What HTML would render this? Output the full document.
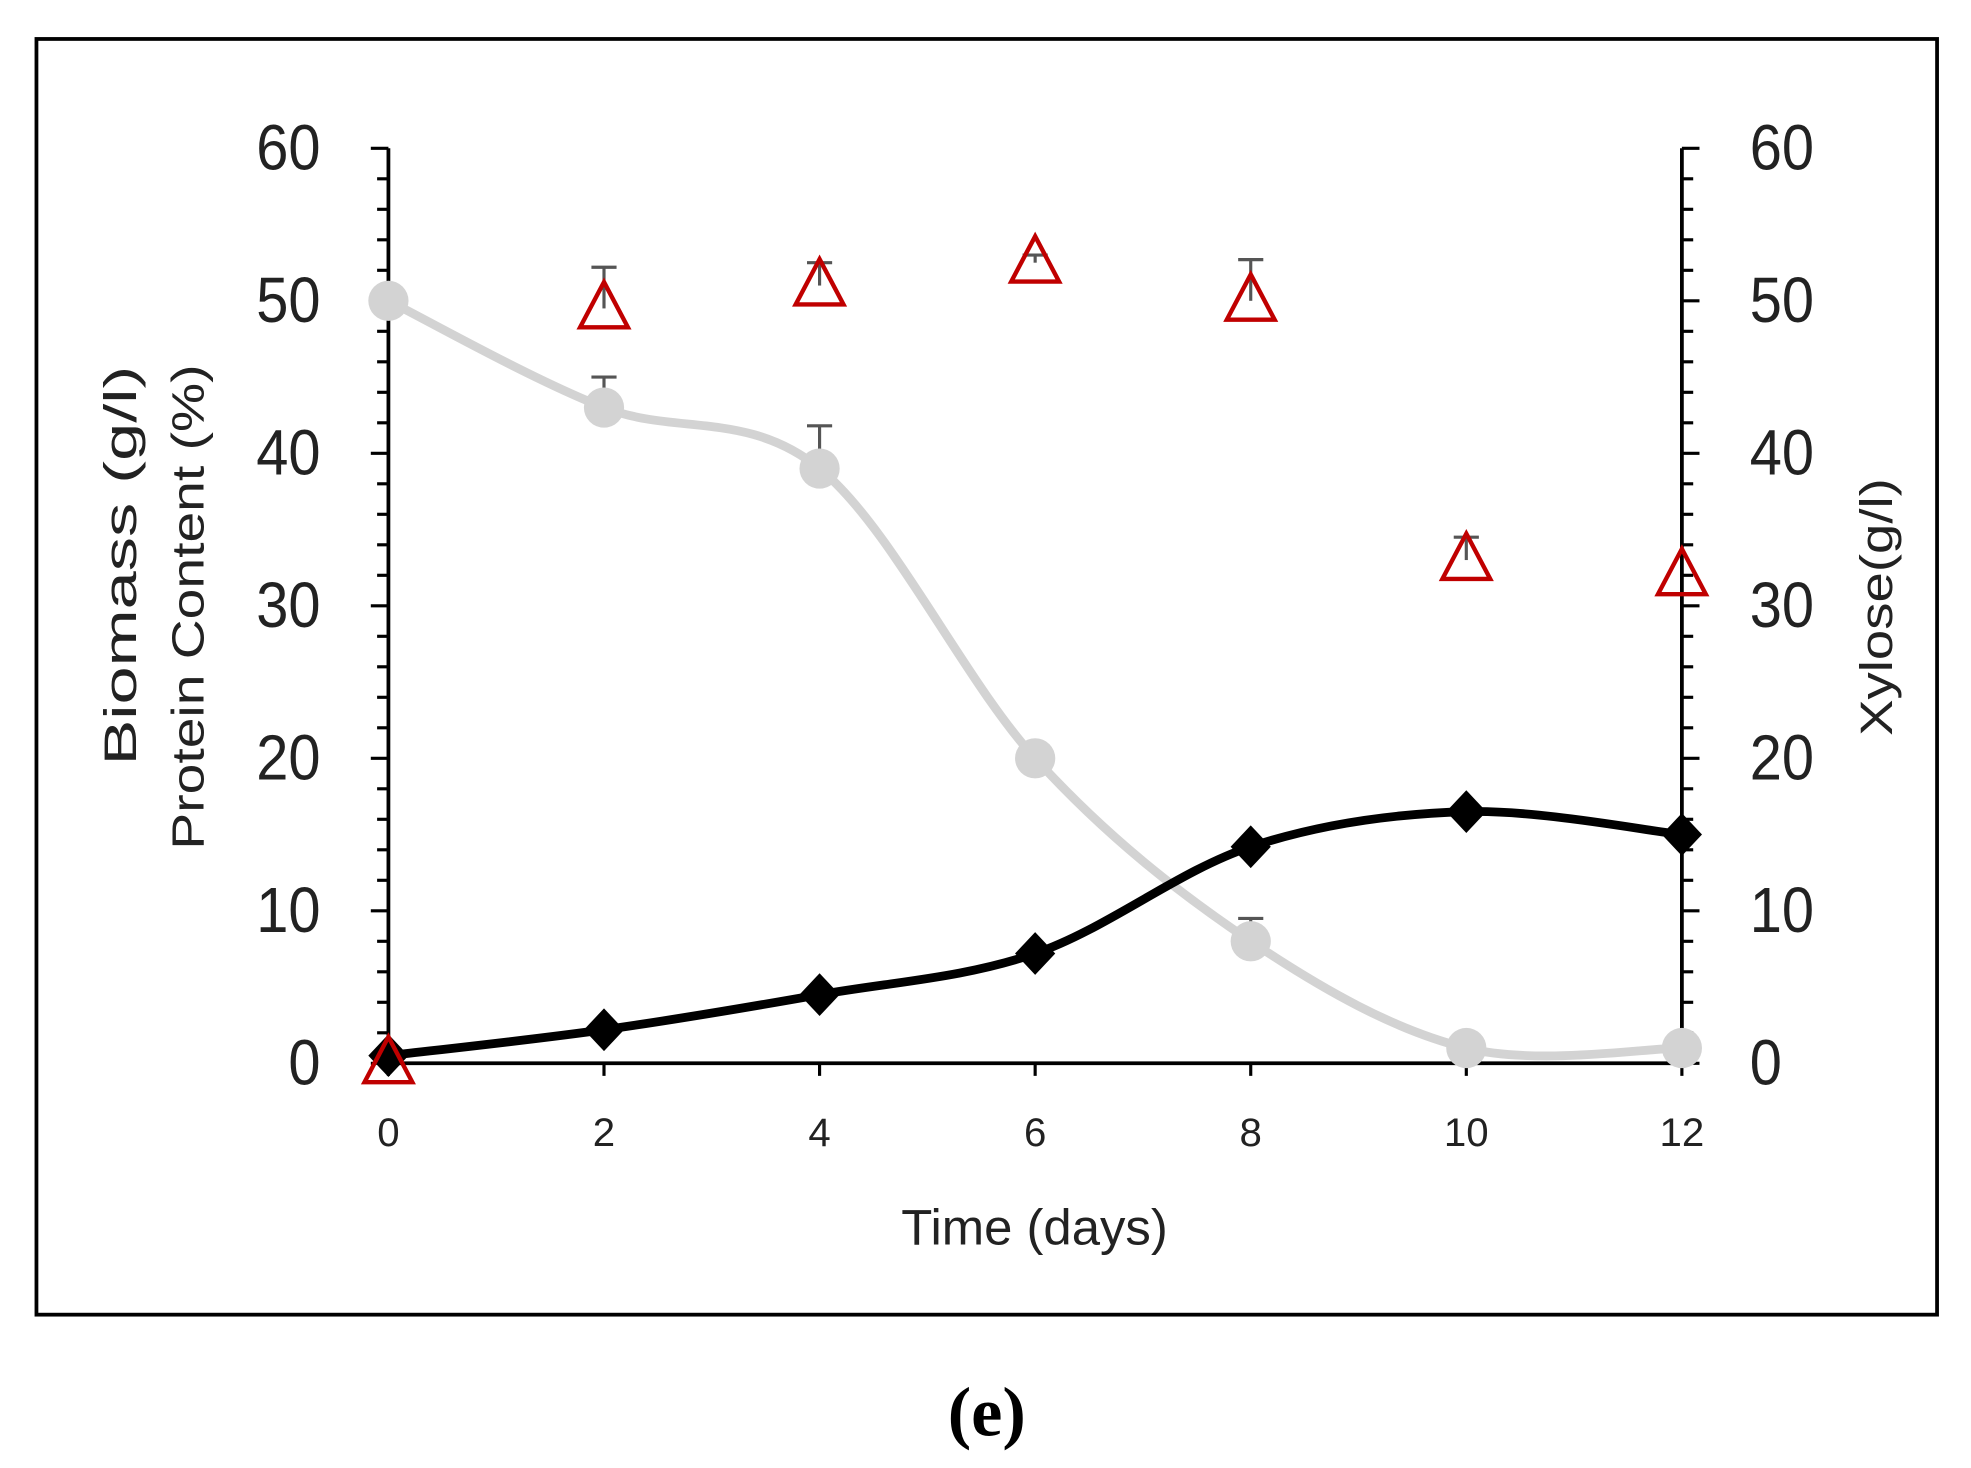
<!DOCTYPE html>
<html><head><meta charset="utf-8"><style>html,body{margin:0;padding:0;background:#fff}svg{display:block}</style></head>
<body>
<svg id="chart" width="1971" height="1468" viewBox="0 0 1568 1168" preserveAspectRatio="none" xmlns="http://www.w3.org/2000/svg" font-family="'Liberation Sans', sans-serif">
<rect x="29" y="31" width="1512" height="1015" fill="#fff" stroke="#000" stroke-width="3"/>
<g id="axes"></g>
<g id="series"></g>
<text x="823" y="990" font-size="40" text-anchor="middle" fill="#222" textLength="212" lengthAdjust="spacingAndGlyphs">Time (days)</text>
<text transform="translate(108,450) rotate(-90)" font-size="36" text-anchor="middle" fill="#222" textLength="318" lengthAdjust="spacingAndGlyphs">Biomass (g/l)</text>
<text transform="translate(162,483) rotate(-90)" font-size="36" text-anchor="middle" fill="#222" textLength="386" lengthAdjust="spacingAndGlyphs">Protein Content (%)</text>
<text transform="translate(1505,483) rotate(-90)" font-size="36" text-anchor="middle" fill="#222" textLength="205" lengthAdjust="spacingAndGlyphs">Xylose(g/l)</text>
<text x="785" y="1142" font-size="56" font-weight="bold" text-anchor="middle" font-family="'Liberation Serif', serif">(e)</text>
</svg>
<script>
const days = [0, 2, 4, 6, 8, 10, 12];
const biomass = [0.5, 2.2, 4.5, 7.2, 14.2, 16.5, 15.0];
const xylose = [50, 43, 39, 20, 8, 1, 1];
const xyloseErr = [0, 2, 2.8, 0.5, 1.5, 0, 0];
const protein = [0, 49.5, 51, 52.5, 50, 33, 32];
const proteinErr = [0, 2.7, 1.5, 0.5, 2.7, 1.5, 0];
const yTicks = [0, 10, 20, 30, 40, 50, 60];
const xTicks = [0, 2, 4, 6, 8, 10, 12];

const NS = 'http://www.w3.org/2000/svg';
const X0 = 309, X1 = 1338, Y0 = 846, Y1 = 118;
const xs = v => X0 + (v - 0) / 12 * (X1 - X0);
const ys = v => Y0 - v / 60 * (Y0 - Y1);
function mk(tag, attrs, parent) { const e = document.createElementNS(NS, tag); for (const k in attrs) e.setAttribute(k, attrs[k]); parent.appendChild(e); return e; }
const axes = document.getElementById('axes'), series = document.getElementById('series');

let e;
e = mk('line', {x1: X0, y1: Y1, x2: X0, y2: Y0, stroke: '#000', 'stroke-width': 3}, axes);


e = mk('line', {x1: X1, y1: Y1, x2: X1, y2: Y0, stroke: '#000', 'stroke-width': 3}, axes);


e = mk('line', {x1: X0, y1: Y0, x2: X1, y2: Y0, stroke: '#000', 'stroke-width': 3}, axes);


for (let v = 0; v <= 60; v += 2) {
  const y = ys(v), major = v % 10 === 0;
  e = mk('line', {x1: X0 - (major ? 14 : 9), y1: y, x2: X0, y2: y, stroke: '#000', 'stroke-width': 2.5}, axes);
  
  
  e = mk('line', {x1: X1, y1: y, x2: X1 + (major ? 14 : 9), y2: y, stroke: '#000', 'stroke-width': 2.5}, axes);
  
  
}
yTicks.forEach(v => {
  e = mk('text', {x: 255, y: ys(v) + 17, 'font-size': 46, 'text-anchor': 'end', fill: '#222', transform: `translate(0,${-(ys(v)+17)*0.1}) scale(1,1.1)`}, axes);
  e.textContent = v;
  
  
  e = mk('text', {x: 1392, y: ys(v) + 17, 'font-size': 46, 'text-anchor': 'start', fill: '#222', transform: `translate(0,${-(ys(v)+17)*0.1}) scale(1,1.1)`}, axes);
  e.textContent = v;
  
  
});
xTicks.forEach(v => {
  e = mk('line', {x1: xs(v), y1: Y0, x2: xs(v), y2: Y0 + 10, stroke: '#000', 'stroke-width': 2.5}, axes);
  
  
  e = mk('text', {x: xs(v), y: 912, 'font-size': 32, 'text-anchor': 'middle', fill: '#222'}, axes);
  e.textContent = v;
  
  
});

function smooth(pts) {
  let d = 'M' + pts[0][0] + ',' + pts[0][1];
  for (let i = 0; i < pts.length - 1; i++) {
    const p0 = pts[Math.max(0, i - 1)], p1 = pts[i], p2 = pts[i + 1], p3 = pts[Math.min(pts.length - 1, i + 2)];
    const t = 6;
    d += ' C' + (p1[0] + (p2[0] - p0[0]) / t) + ',' + (p1[1] + (p2[1] - p0[1]) / t) + ' ' + (p2[0] - (p3[0] - p1[0]) / t) + ',' + (p2[1] - (p3[1] - p1[1]) / t) + ' ' + p2[0] + ',' + p2[1];
  }
  return d;
}
function errBar(x, v, err, name) {
  if (err <= 0) return;
  const g = mk('g', {stroke: '#555', 'stroke-width': 2.5}, series);
  
  
  mk('line', {x1: x, y1: ys(v), x2: x, y2: ys(v + err)}, g);
  mk('line', {x1: x - 10, y1: ys(v + err), x2: x + 10, y2: ys(v + err)}, g);
}

// xylose
e = mk('path', {d: smooth(days.map((d, i) => [xs(d), ys(xylose[i])])), fill: 'none', stroke: '#d3d3d3', 'stroke-width': 7}, series);


days.forEach((d, i) => {
  errBar(xs(d), xylose[i], xyloseErr[i], 'xylose-error-bar');
  e = mk('circle', {cx: xs(d), cy: ys(xylose[i]), r: 16, fill: '#d3d3d3'}, series);
  
  
});
// biomass
e = mk('path', {d: smooth(days.map((d, i) => [xs(d), ys(biomass[i])])), fill: 'none', stroke: '#000', 'stroke-width': 7}, series);


days.forEach((d, i) => {
  const x = xs(d), y = ys(biomass[i]);
  e = mk('polygon', {points: `${x},${y - 17} ${x + 16},${y} ${x},${y + 17} ${x - 16},${y}`, fill: '#000'}, series);
  
  
});
// protein
days.forEach((d, i) => {
  const x = xs(d), y = ys(protein[i]);
  errBar(x, protein[i], proteinErr[i], 'protein-error-bar');
  e = mk('polygon', {points: `${x},${y - 21} ${x + 19},${y + 15} ${x - 19},${y + 15}`, fill: 'none', stroke: '#c00000', 'stroke-width': 3.5}, series);
  
  
});
</script>
</body></html>
